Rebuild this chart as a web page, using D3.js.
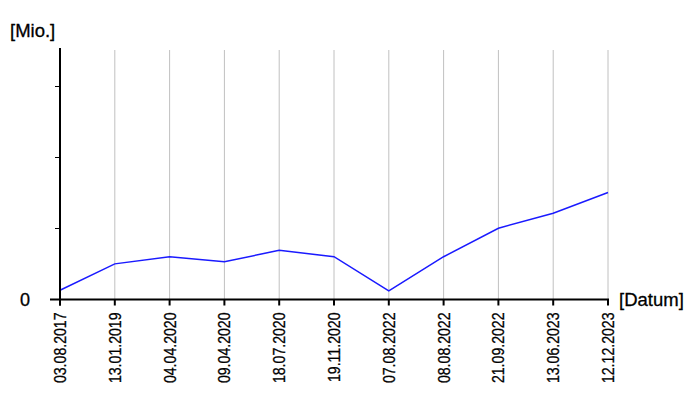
<!DOCTYPE html>
<html><head><meta charset="utf-8">
<script src="https://cdn.jsdelivr.net/npm/d3@7"></script>
<style>body{margin:0;background:#fff}svg{display:block}</style>
</head><body>
<svg id="c" width="700" height="400"></svg>
<script>
const dates = ["03.08.2017","13.01.2019","04.04.2020","09.04.2020","18.07.2020","19.11.2020","07.08.2022","08.08.2022","21.09.2022","13.06.2023","12.12.2023"];
const values = [0.13,0.50,0.60,0.53,0.69,0.60,0.12,0.60,1.00,1.21,1.50];
const yTicks = [0,1,2,3];
const yTickLabels = ["0"];

const svg = d3.select("#c");
const font = "Liberation Sans, Arial, sans-serif";
const x = d3.scalePoint().domain(dates).range([60,608]);
const y = d3.scaleLinear().domain([0,3.5]).range([299.5,50]);

// grid
svg.append("g").selectAll("line").data(dates.slice(1)).join("line")
  .attr("x1",d=>x(d)).attr("x2",d=>x(d)).attr("y1",y(3.5)).attr("y2",y(0))
  .attr("stroke","#c0c0c0").attr("stroke-width",1);

// line
svg.append("path").datum(values)
  .attr("d", d3.line().x((d,i)=>x(dates[i])).y(d=>y(d)))
  .attr("fill","none").attr("stroke","#1a1aff").attr("stroke-width",1.5);

// y axis
const ya = svg.append("g");
ya.append("line").attr("x1",60).attr("x2",60).attr("y1",y(3.5)-2).attr("y2",y(0)+6)
  .attr("stroke","#000").attr("stroke-width",2);
ya.selectAll("line.t").data(yTicks.slice(1)).join("line").attr("class","t")
  .attr("x1",55).attr("x2",60).attr("y1",d=>Math.round(y(d))+0.5).attr("y2",d=>Math.round(y(d))+0.5)
  .attr("stroke","#000").attr("stroke-width",1);
ya.append("text").text(yTickLabels[0]).attr("x",30).attr("y",y(0)+6)
  .attr("text-anchor","end").attr("font-family",font).attr("font-size",18)
  .attr("stroke","#000").attr("stroke-width",0.3);

// x axis
const xa = svg.append("g");
xa.append("line").attr("x1",50).attr("x2",609).attr("y1",y(0)).attr("y2",y(0))
  .attr("stroke","#000").attr("stroke-width",2);
xa.selectAll("line.t").data(dates).join("line").attr("class","t")
  .attr("x1",d=>x(d)).attr("x2",d=>x(d)).attr("y1",y(0)).attr("y2",y(0)+6)
  .attr("stroke","#000").attr("stroke-width",2);
xa.selectAll("text").data(dates).join("text")
  .attr("transform",d=>`translate(${x(d)+6},${y(0)+13}) rotate(-90) scale(0.83,1)`)
  .attr("text-anchor","end").attr("font-family",font).attr("font-size",17)
  .attr("stroke","#000").attr("stroke-width",0.3)
  .text(d=>d);

// titles
svg.append("text").text("[Mio.]").attr("x",10).attr("y",37)
  .attr("font-family",font).attr("font-size",18.5)
  .attr("stroke","#000").attr("stroke-width",0.3);
svg.append("text").text("[Datum]").attr("x",619).attr("y",306)
  .attr("font-family",font).attr("font-size",18.5)
  .attr("stroke","#000").attr("stroke-width",0.3);
</script>
</body></html>
